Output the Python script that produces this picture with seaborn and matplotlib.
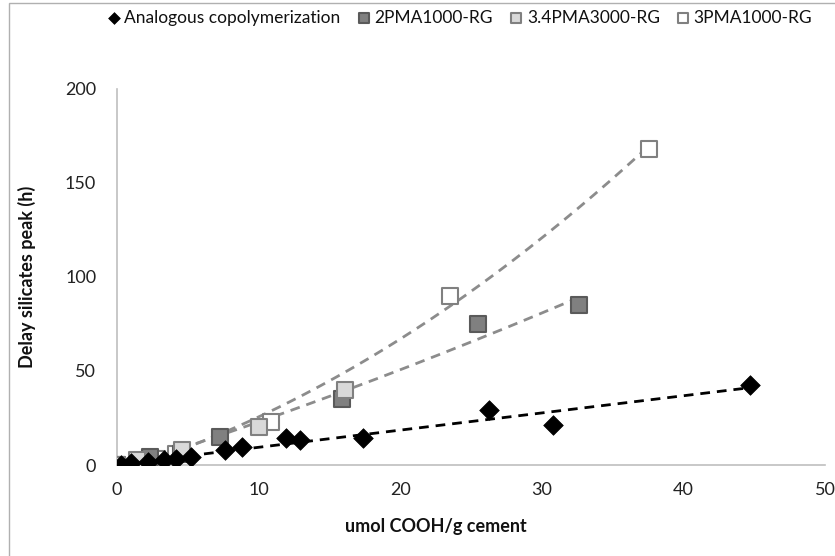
import numpy as np
import pandas as pd
import matplotlib
matplotlib.use("Agg")
import matplotlib.pyplot as plt
import seaborn as sns
from matplotlib.patches import Rectangle

# ---- data ----
analog_x = [0.3, 1.0, 2.2, 3.3, 4.2, 5.2, 7.6, 8.8, 11.9, 12.9, 17.4, 26.3, 30.8, 44.7]
analog_y = [0.0, 1.0, 1.5, 2.5, 3.0, 4.5, 8.0, 9.5, 14.5, 13.3, 14.4, 29.0, 21.3, 42.5]

pma2_x = [0.0, 2.3, 4.5, 7.3, 15.9, 25.5, 32.6]
pma2_y = [0.0, 4.0, 6.0, 15.0, 35.0, 75.0, 85.0]

pma34_x = [0.0, 1.4, 4.6, 10.0, 16.1]
pma34_y = [0.0, 2.5, 8.0, 20.0, 40.0]

pma3_x = [0.0, 2.8, 4.2, 10.9, 23.5, 37.6]
pma3_y = [0.0, 3.0, 6.0, 23.0, 90.0, 168.0]

series_names = ["Analogous copolymerization", "2PMA1000-RG", "3.4PMA3000-RG", "3PMA1000-RG"]
x_ticks = [0, 10, 20, 30, 40, 50]
y_ticks = [0, 50, 100, 150, 200]
x_label = "umol COOH/g cement"
y_label = "Delay silicates peak (h)"

# ---- figure ----
sns.set_theme(style="white")
plt.rcParams["font.family"] = ["Lato", "DejaVu Sans"]

fig = plt.figure(figsize=(8.35, 5.56), dpi=100)
ax = fig.add_axes([117/835, 1-465/556, (825-117)/835, (465-88.5)/556])

# chart-area border (Excel style)
fig.patches.append(Rectangle((9/835, -0.1), 1.2, 1-3/556+0.1, transform=fig.transFigure,
                             fill=False, edgecolor="#b0b0b0", lw=1.0, zorder=0))

# trend lines
def trend(xs, ys, deg):
    c = np.polyfit(xs, ys, deg)
    xx = np.linspace(min(xs), max(xs), 200)
    return pd.DataFrame({"x": xx, "y": np.polyval(c, xx)})

t_an = trend(analog_x, analog_y, 1)
t_p2 = trend(pma2_x, pma2_y, 2)
t_p3 = trend(pma3_x, pma3_y, 2)
sns.lineplot(data=t_an, x="x", y="y", ax=ax, color="black", lw=2, zorder=2)
sns.lineplot(data=t_p2, x="x", y="y", ax=ax, color="#8c8c8c", lw=2, zorder=2)
sns.lineplot(data=t_p3, x="x", y="y", ax=ax, color="#8c8c8c", lw=2, zorder=2)
for ln in ax.lines:
    ln.set_linestyle((0, (3.5, 2.5)))

# markers
sns.scatterplot(x=pma3_x, y=pma3_y, ax=ax, marker="s", s=120, color="white",
                edgecolor="#808080", linewidth=1.5, label=series_names[3], zorder=3)
sns.scatterplot(x=pma2_x, y=pma2_y, ax=ax, marker="s", s=120, color="#808080",
                edgecolor="#5a5a5a", linewidth=1.5, label=series_names[1], zorder=4)
sns.scatterplot(x=pma34_x, y=pma34_y, ax=ax, marker="s", s=120, color="#d9d9d9",
                edgecolor="#808080", linewidth=1.5, label=series_names[2], zorder=5)
sns.scatterplot(x=analog_x, y=analog_y, ax=ax, marker="D", s=100, color="black",
                edgecolor="black", linewidth=0.5, label=series_names[0], zorder=6)

ax.set_xlim(0, 50)
ax.set_ylim(0, 200)
ax.set_xticks(x_ticks)
ax.set_yticks(y_ticks)
ax.tick_params(axis="both", which="major", labelsize=13, colors="#222222",
               length=5, width=1, direction="out")
ax.tick_params(axis="x", pad=7, color="#bfbfbf")
ax.tick_params(axis="y", pad=10, color="#bfbfbf")
ax.set_ylabel(y_label, fontsize=13, fontweight="bold", color="#111111")
ax.set_xlabel(x_label, fontsize=13, fontweight="bold", color="#111111")
ax.yaxis.set_label_coords(-0.115, 0.5)
ax.xaxis.set_label_coords(0.45, -0.14)

for sp in ["top", "right"]:
    ax.spines[sp].set_visible(False)
for sp in ["left", "bottom"]:
    ax.spines[sp].set_color("#bfbfbf")
    ax.spines[sp].set_linewidth(1.2)

# legend
h, l = ax.get_legend_handles_labels()
order = [l.index(n) for n in series_names]
if ax.get_legend():
    ax.get_legend().remove()
leg = fig.legend([h[i] for i in order], [l[i] for i in order], loc="center",
                 bbox_to_anchor=(0.55, 1-18/556), ncol=4, frameon=False,
                 fontsize=12.5, handletextpad=0.15, columnspacing=0.9,
                 markerscale=0.6, handlelength=0.9)
for t in leg.get_texts():
    t.set_color("#111111")

fig.savefig("out.png", dpi=100)
